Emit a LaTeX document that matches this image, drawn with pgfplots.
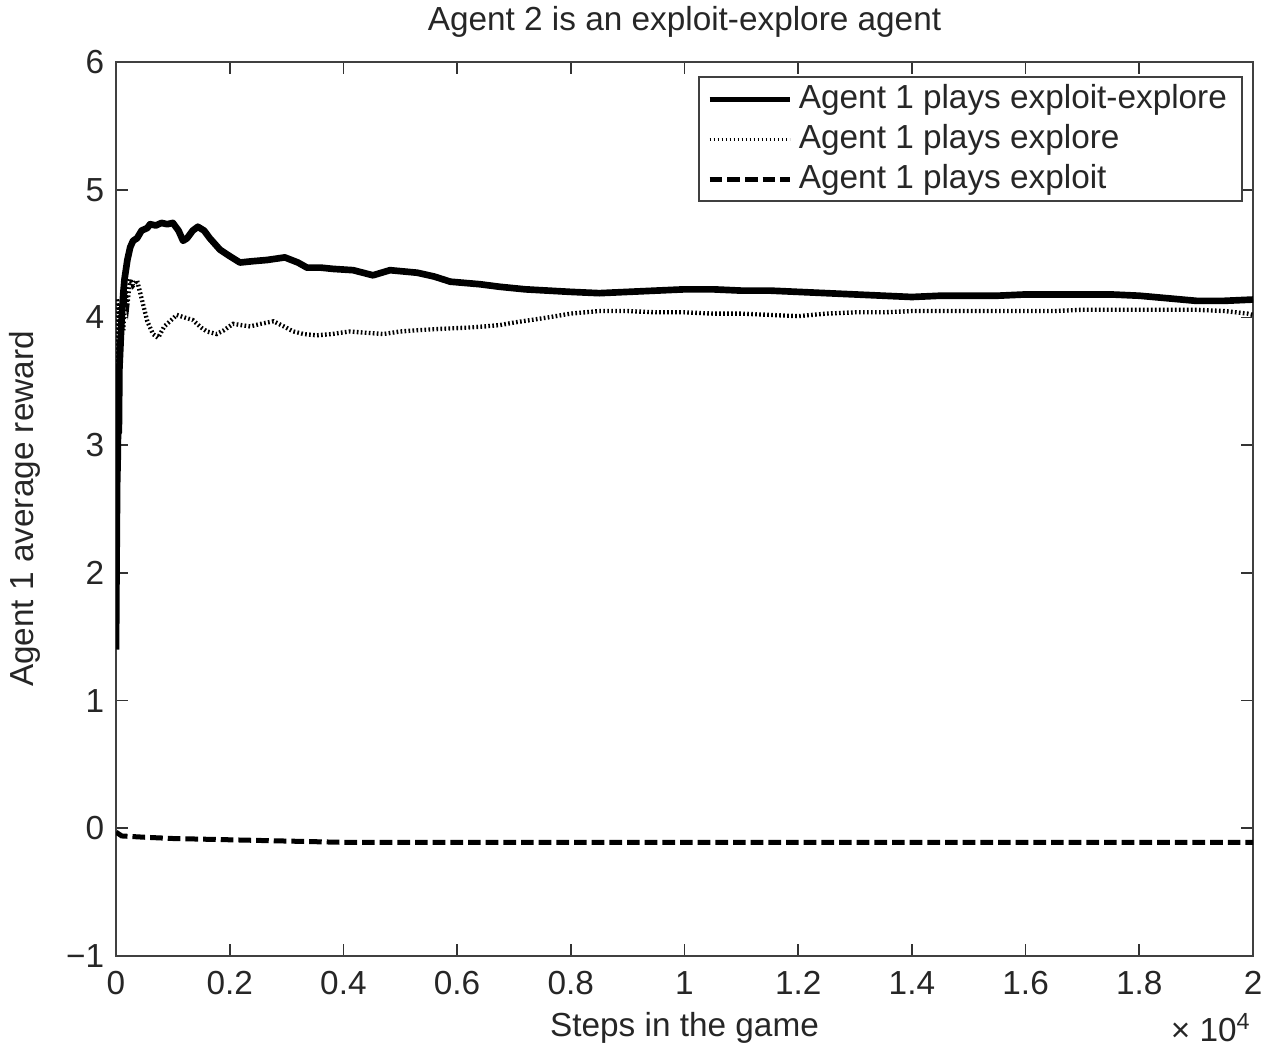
\documentclass[border=0pt]{standalone}
\usepackage{pgfplots}
\pgfplotsset{compat=1.18}
\usepackage{fontspec}
\setmainfont{Liberation Sans}
\begin{document}
\begin{tikzpicture}
\begin{axis}[
  scale only axis,
  width=341.1pt, height=268.2pt,
  xmin=0, xmax=2, ymin=-1, ymax=6,
  xtick={0,0.2,...,2.01},
  ytick={-1,0,...,6},
  xticklabels={0,0.2,0.4,0.6,0.8,1,1.2,1.4,1.6,1.8,2},
  yticklabels={−1,0,1,2,3,4,5,6},
  tick align=inside, xtick pos=both, ytick pos=both,
  major tick length=3.6pt,
  axis line style={black!75, line width=0.6pt},
  tick style={black!80, line width=0.5pt},
  /pgf/number format/assume math mode=true,
  tick label style={font=\fontsize{10}{12}\selectfont, text=black!85},
  xticklabel style={yshift=-1pt},
  title={Agent 2 is an exploit-explore agent},
  every axis title/.style={at={(axis description cs:0.5,1)}, yshift=12pt, anchor=center, font=\fontsize{10}{12}\selectfont, text=black!85},
  xlabel={Steps in the game},
  every axis x label/.style={at={(axis description cs:0.5,0)}, yshift=-21.6pt, anchor=center, font=\fontsize{10}{12}\selectfont, text=black!85},
  ylabel={Agent 1 average reward},
  every axis y label/.style={at={(axis description cs:0,0.5)}, rotate=90, yshift=27.3pt, anchor=center, font=\fontsize{10}{12}\selectfont, text=black!85},
  legend style={at={(rel axis cs:0.991,0.984)}, anchor=north east, draw=black!75, line width=0.5pt, font=\fontsize{10}{12}\selectfont, text=black!85, inner xsep=2.5pt, inner ysep=0.3pt, row sep=-0.8pt, cells={anchor=west}},
  legend image code/.code={\draw[#1] (0pt,0pt) -- (24pt,0pt);},
  clip=true,
]
% Agent 1 plays exploit-explore
\addplot[black, line width=2pt, line join=round, legend image post style={line width=1.3pt}] coordinates {
(0.000,1.40) (0.001,2.10) (0.002,2.70) (0.003,2.90) (0.004,3.30) (0.005,3.10) (0.006,3.60)
(0.008,3.80) (0.010,4.00) (0.013,4.20) (0.015,4.30) (0.020,4.45) (0.025,4.55) (0.030,4.60)
(0.037,4.62) (0.045,4.68) (0.055,4.70) (0.060,4.73) (0.070,4.72) (0.080,4.74) (0.090,4.73)
(0.100,4.74) (0.110,4.68) (0.118,4.60) (0.125,4.62) (0.135,4.68) (0.144,4.71) (0.155,4.68)
(0.165,4.62) (0.183,4.53) (0.200,4.48) (0.218,4.43) (0.240,4.44) (0.266,4.45) (0.297,4.47)
(0.320,4.43) (0.336,4.39) (0.360,4.39) (0.382,4.38) (0.417,4.37) (0.452,4.33) (0.482,4.37)
(0.530,4.35) (0.560,4.32) (0.588,4.28) (0.640,4.26) (0.675,4.24) (0.720,4.22) (0.760,4.21)
(0.800,4.20) (0.850,4.19) (0.900,4.20) (0.950,4.21) (1.000,4.22) (1.050,4.22) (1.100,4.21)
(1.150,4.21) (1.200,4.20) (1.250,4.19) (1.300,4.18) (1.350,4.17) (1.400,4.16) (1.450,4.17)
(1.500,4.17) (1.550,4.17) (1.600,4.18) (1.650,4.18) (1.700,4.18) (1.750,4.18) (1.800,4.17)
(1.850,4.15) (1.900,4.13) (1.950,4.13) (2.000,4.14)
};
\addlegendentry{Agent 1 plays exploit-explore}
% Agent 1 plays explore
\addplot[black, line width=1.3pt, dash pattern=on 0.5pt off 0.7pt, legend image post style={line width=1pt}] coordinates {
(0.000,3.50) (0.002,4.15) (0.004,3.60) (0.006,4.10) (0.008,3.70) (0.010,4.10) (0.013,3.90)
(0.016,4.20) (0.020,4.10) (0.025,4.30) (0.030,4.25) (0.037,4.29) (0.045,4.15) (0.055,3.97)
(0.065,3.87) (0.074,3.84) (0.085,3.93) (0.095,3.97) (0.107,4.02) (0.120,4.00) (0.135,3.98)
(0.150,3.92) (0.160,3.89) (0.177,3.87) (0.190,3.90) (0.206,3.95) (0.220,3.94) (0.236,3.93)
(0.255,3.95) (0.277,3.97) (0.295,3.93) (0.312,3.89) (0.330,3.87) (0.353,3.86) (0.380,3.87)
(0.410,3.89) (0.440,3.88) (0.470,3.87) (0.500,3.89) (0.530,3.90) (0.570,3.91) (0.617,3.92)
(0.650,3.93) (0.675,3.94) (0.700,3.96) (0.730,3.98) (0.760,4.00) (0.800,4.03) (0.850,4.05)
(0.900,4.05) (0.950,4.04) (1.000,4.04) (1.050,4.03) (1.100,4.03) (1.150,4.02) (1.200,4.01)
(1.250,4.03) (1.300,4.04) (1.350,4.04) (1.400,4.05) (1.450,4.05) (1.500,4.05) (1.550,4.05)
(1.600,4.05) (1.650,4.05) (1.700,4.06) (1.750,4.06) (1.800,4.06) (1.850,4.06) (1.900,4.06)
(1.950,4.05) (1.990,4.03) (2.000,4.02)
};
\addlegendentry{Agent 1 plays explore}
% Agent 1 plays exploit
\addplot[black, line width=1.5pt, dash pattern=on 3.8pt off 1.5pt] coordinates {
(0.000,-0.03) (0.010,-0.06) (0.050,-0.07) (0.100,-0.08) (0.200,-0.09) (0.300,-0.10)
(0.400,-0.11) (0.600,-0.11) (0.800,-0.11) (1.000,-0.11) (1.200,-0.11) (1.400,-0.11)
(1.600,-0.11) (1.800,-0.11) (2.000,-0.11)
};
\addlegendentry{Agent 1 plays exploit}
\coordinate (sw) at (rel axis cs:0,0);
\coordinate (ne) at (rel axis cs:1,1);
\end{axis}
\node[anchor=east, font=\fontsize{10}{12}\selectfont, text=black!85] at ([xshift=3pt,yshift=-21.6pt]sw -| ne) {× 10\textsuperscript{4}};
\pgfresetboundingbox
\path[use as bounding box] ([xshift=-34.8pt,yshift=-28.5pt]sw) rectangle ([xshift=5.4pt,yshift=18.6pt]ne);
\end{tikzpicture}
\end{document}
